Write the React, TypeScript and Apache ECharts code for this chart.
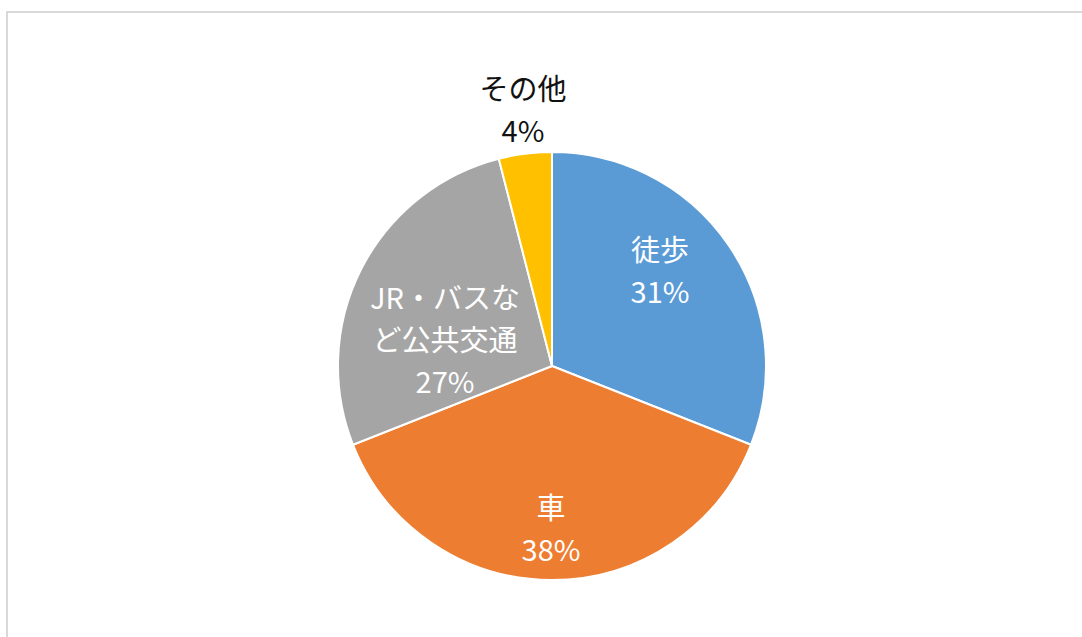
import React, { useEffect, useRef } from "react";
import * as echarts from "echarts";

const categories = ["徒歩", "車", "JR・バスな\nど公共交通", "その他"];
const values = [31, 38, 27, 4];
const colors = ["#5B9BD5", "#ED7D31", "#A5A5A5", "#FFC000"];
const labelPos: [number, number][] = [
  [660, 269],
  [551, 527],
  [445, 338],
  [523, 108],
];

export default function App() {
  const ref = useRef<HTMLDivElement>(null);
  useEffect(() => {
    const chart = echarts.init(ref.current!, undefined, { renderer: "svg" });
    const font = '"Noto Sans CJK JP", "Noto Sans", sans-serif';
    chart.setOption({
      animation: false,
      backgroundColor: "#ffffff",
      graphic: [
        {
          type: "rect",
          shape: { x: 7, y: 12, width: 1090, height: 640 },
          style: { fill: "none", stroke: "#d9d9d9", lineWidth: 2 },
          silent: true,
        },
      ],
      series: [
        {
          type: "pie",
          center: [552, 366],
          radius: 214,
          startAngle: 90,
          clockwise: true,
          itemStyle: { borderColor: "#ffffff", borderWidth: 2 },
          label: {
            show: true,
            position: "inside",
            formatter: (p: any) => `${p.name}\n${p.value}%`,
            fontFamily: font,
            fontSize: 29,
            lineHeight: 42,
            color: "#ffffff",
            align: "center",
          },
          labelLine: { show: false },
          labelLayout: (p: any) => ({
            x: labelPos[p.dataIndex][0],
            y: labelPos[p.dataIndex][1],
            align: "center",
            verticalAlign: "middle",
          }),
          data: categories.map((c, i) => ({
            name: c,
            value: values[i],
            itemStyle: { color: colors[i] },
            label: i === 3 ? { color: "#111111", position: "outside" } : undefined,
          })),
        },
      ],
    });
    return () => chart.dispose();
  }, []);
  return (
    <div
      ref={ref}
      style={{ position: "fixed", left: 0, top: 0, width: 1082, height: 637 }}
    />
  );
}
